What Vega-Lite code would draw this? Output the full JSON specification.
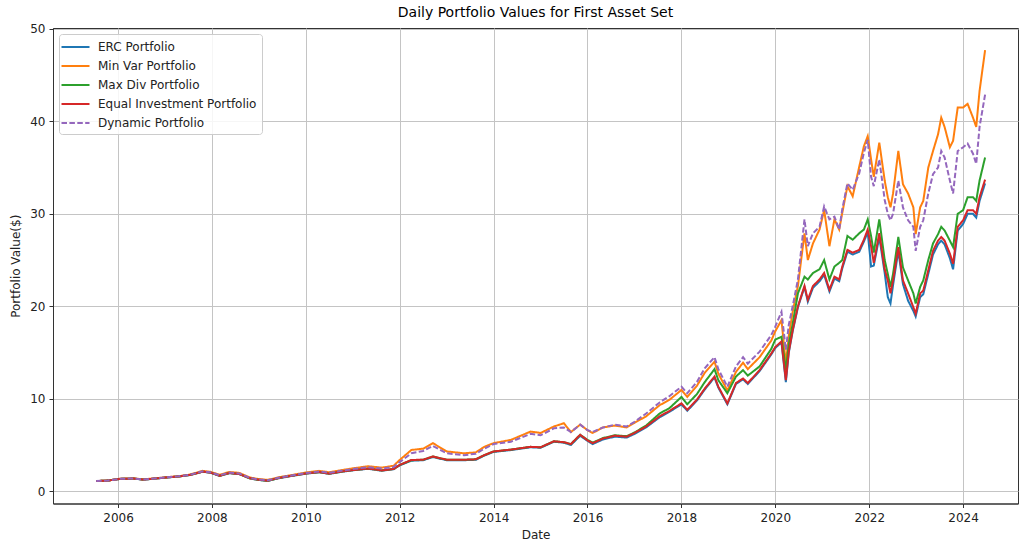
{
  "$schema": "https://vega.github.io/schema/vega-lite/v6.json",
  "width": 965,
  "height": 475.5,
  "autosize": {"type": "none"},
  "padding": {"left": 53, "top": 28, "right": 2, "bottom": 40.5},
  "background": "white",
  "title": {"text": "Daily Portfolio Values for First Asset Set", "fontSize": 14, "font": "DejaVu Sans", "fontWeight": "normal", "color": "#000", "offset": 3, "anchor": "middle"},
  "config": {
    "view": {"stroke": "#333", "strokeWidth": 1},
    "font": "DejaVu Sans",
    "axis": {"labelFont": "DejaVu Sans", "labelFontSize": 12, "labelColor": "#222", "titleFont": "DejaVu Sans", "titleFontSize": 12, "titleFontWeight": "normal", "titleColor": "#222", "tickColor": "#333", "tickSize": 4, "domainColor": "#333", "gridColor": "#c4c4c4", "gridWidth": 1}
  },
  "data": {"values": [
    {"date": "2005-07-15", "ERC": 1.10, "MinVar": 1.10, "MaxDiv": 1.10, "Equal": 1.10, "Dynamic": 1.10},
    {"date": "2005-10-15", "ERC": 1.15, "MinVar": 1.16, "MaxDiv": 1.15, "Equal": 1.15, "Dynamic": 1.16},
    {"date": "2006-01-15", "ERC": 1.33, "MinVar": 1.35, "MaxDiv": 1.33, "Equal": 1.33, "Dynamic": 1.34},
    {"date": "2006-05-01", "ERC": 1.36, "MinVar": 1.39, "MaxDiv": 1.37, "Equal": 1.37, "Dynamic": 1.38},
    {"date": "2006-07-15", "ERC": 1.25, "MinVar": 1.28, "MaxDiv": 1.26, "Equal": 1.26, "Dynamic": 1.27},
    {"date": "2006-10-15", "ERC": 1.36, "MinVar": 1.39, "MaxDiv": 1.37, "Equal": 1.37, "Dynamic": 1.38},
    {"date": "2007-01-15", "ERC": 1.48, "MinVar": 1.52, "MaxDiv": 1.49, "Equal": 1.49, "Dynamic": 1.50},
    {"date": "2007-04-15", "ERC": 1.58, "MinVar": 1.62, "MaxDiv": 1.59, "Equal": 1.59, "Dynamic": 1.61},
    {"date": "2007-07-15", "ERC": 1.75, "MinVar": 1.80, "MaxDiv": 1.76, "Equal": 1.76, "Dynamic": 1.78},
    {"date": "2007-10-20", "ERC": 2.10, "MinVar": 2.20, "MaxDiv": 2.12, "Equal": 2.12, "Dynamic": 2.15},
    {"date": "2007-12-20", "ERC": 2.00, "MinVar": 2.10, "MaxDiv": 2.02, "Equal": 2.02, "Dynamic": 2.06},
    {"date": "2008-03-01", "ERC": 1.65, "MinVar": 1.78, "MaxDiv": 1.67, "Equal": 1.67, "Dynamic": 1.72},
    {"date": "2008-05-15", "ERC": 1.95, "MinVar": 2.08, "MaxDiv": 1.97, "Equal": 1.97, "Dynamic": 2.02},
    {"date": "2008-08-01", "ERC": 1.85, "MinVar": 1.98, "MaxDiv": 1.86, "Equal": 1.86, "Dynamic": 1.92},
    {"date": "2008-10-20", "ERC": 1.40, "MinVar": 1.50, "MaxDiv": 1.40, "Equal": 1.42, "Dynamic": 1.45},
    {"date": "2008-12-15", "ERC": 1.25, "MinVar": 1.35, "MaxDiv": 1.25, "Equal": 1.27, "Dynamic": 1.30},
    {"date": "2009-03-10", "ERC": 1.10, "MinVar": 1.22, "MaxDiv": 1.12, "Equal": 1.13, "Dynamic": 1.18},
    {"date": "2009-06-01", "ERC": 1.40, "MinVar": 1.50, "MaxDiv": 1.42, "Equal": 1.42, "Dynamic": 1.45},
    {"date": "2009-09-01", "ERC": 1.62, "MinVar": 1.72, "MaxDiv": 1.64, "Equal": 1.64, "Dynamic": 1.68},
    {"date": "2010-01-01", "ERC": 1.90, "MinVar": 2.02, "MaxDiv": 1.92, "Equal": 1.92, "Dynamic": 1.97},
    {"date": "2010-04-15", "ERC": 2.05, "MinVar": 2.20, "MaxDiv": 2.06, "Equal": 2.07, "Dynamic": 2.13},
    {"date": "2010-07-01", "ERC": 1.88, "MinVar": 2.05, "MaxDiv": 1.90, "Equal": 1.90, "Dynamic": 1.98},
    {"date": "2010-10-15", "ERC": 2.12, "MinVar": 2.30, "MaxDiv": 2.14, "Equal": 2.15, "Dynamic": 2.24},
    {"date": "2011-01-15", "ERC": 2.28, "MinVar": 2.50, "MaxDiv": 2.30, "Equal": 2.30, "Dynamic": 2.42},
    {"date": "2011-05-01", "ERC": 2.42, "MinVar": 2.70, "MaxDiv": 2.45, "Equal": 2.45, "Dynamic": 2.60},
    {"date": "2011-08-15", "ERC": 2.22, "MinVar": 2.55, "MaxDiv": 2.25, "Equal": 2.25, "Dynamic": 2.45},
    {"date": "2011-11-15", "ERC": 2.38, "MinVar": 2.75, "MaxDiv": 2.40, "Equal": 2.40, "Dynamic": 2.62},
    {"date": "2012-01-01", "ERC": 2.80, "MinVar": 3.38, "MaxDiv": 2.84, "Equal": 2.84, "Dynamic": 3.15},
    {"date": "2012-04-01", "ERC": 3.30, "MinVar": 4.46, "MaxDiv": 3.35, "Equal": 3.38, "Dynamic": 4.10},
    {"date": "2012-07-01", "ERC": 3.35, "MinVar": 4.60, "MaxDiv": 3.40, "Equal": 3.40, "Dynamic": 4.35},
    {"date": "2012-09-15", "ERC": 3.70, "MinVar": 5.20, "MaxDiv": 3.75, "Equal": 3.75, "Dynamic": 4.90},
    {"date": "2013-01-01", "ERC": 3.35, "MinVar": 4.30, "MaxDiv": 3.40, "Equal": 3.40, "Dynamic": 4.10},
    {"date": "2013-05-15", "ERC": 3.35, "MinVar": 4.10, "MaxDiv": 3.40, "Equal": 3.40, "Dynamic": 3.90},
    {"date": "2013-08-15", "ERC": 3.40, "MinVar": 4.20, "MaxDiv": 3.45, "Equal": 3.45, "Dynamic": 4.05},
    {"date": "2013-10-20", "ERC": 3.85, "MinVar": 4.80, "MaxDiv": 3.90, "Equal": 3.90, "Dynamic": 4.60},
    {"date": "2014-01-01", "ERC": 4.25, "MinVar": 5.20, "MaxDiv": 4.30, "Equal": 4.30, "Dynamic": 5.10},
    {"date": "2014-05-15", "ERC": 4.45, "MinVar": 5.55, "MaxDiv": 4.50, "Equal": 4.50, "Dynamic": 5.35},
    {"date": "2014-10-15", "ERC": 4.75, "MinVar": 6.45, "MaxDiv": 4.80, "Equal": 4.80, "Dynamic": 6.20},
    {"date": "2015-01-01", "ERC": 4.70, "MinVar": 6.30, "MaxDiv": 4.75, "Equal": 4.75, "Dynamic": 6.05},
    {"date": "2015-04-15", "ERC": 5.35, "MinVar": 7.00, "MaxDiv": 5.40, "Equal": 5.40, "Dynamic": 6.80},
    {"date": "2015-07-01", "ERC": 5.25, "MinVar": 7.35, "MaxDiv": 5.30, "Equal": 5.30, "Dynamic": 6.90},
    {"date": "2015-08-25", "ERC": 5.00, "MinVar": 6.40, "MaxDiv": 5.10, "Equal": 5.10, "Dynamic": 6.40},
    {"date": "2015-11-05", "ERC": 6.00, "MinVar": 7.20, "MaxDiv": 6.10, "Equal": 6.10, "Dynamic": 7.20},
    {"date": "2016-01-01", "ERC": 5.45, "MinVar": 6.60, "MaxDiv": 5.55, "Equal": 5.50, "Dynamic": 6.60},
    {"date": "2016-02-10", "ERC": 5.10, "MinVar": 6.30, "MaxDiv": 5.25, "Equal": 5.20, "Dynamic": 6.40},
    {"date": "2016-05-01", "ERC": 5.60, "MinVar": 6.90, "MaxDiv": 5.75, "Equal": 5.70, "Dynamic": 6.90},
    {"date": "2016-08-01", "ERC": 5.90, "MinVar": 7.10, "MaxDiv": 6.05, "Equal": 6.00, "Dynamic": 7.20},
    {"date": "2016-11-01", "ERC": 5.80, "MinVar": 6.90, "MaxDiv": 5.95, "Equal": 5.90, "Dynamic": 7.00},
    {"date": "2017-01-01", "ERC": 6.20, "MinVar": 7.40, "MaxDiv": 6.35, "Equal": 6.30, "Dynamic": 7.50},
    {"date": "2017-04-01", "ERC": 6.90, "MinVar": 8.10, "MaxDiv": 7.10, "Equal": 7.00, "Dynamic": 8.40},
    {"date": "2017-07-15", "ERC": 8.00, "MinVar": 9.30, "MaxDiv": 8.40, "Equal": 8.10, "Dynamic": 9.60},
    {"date": "2017-10-01", "ERC": 8.60, "MinVar": 9.90, "MaxDiv": 9.00, "Equal": 8.70, "Dynamic": 10.30},
    {"date": "2018-01-01", "ERC": 9.40, "MinVar": 10.95, "MaxDiv": 10.20, "Equal": 9.50, "Dynamic": 11.30},
    {"date": "2018-02-15", "ERC": 8.70, "MinVar": 10.20, "MaxDiv": 9.40, "Equal": 8.80, "Dynamic": 10.60},
    {"date": "2018-05-01", "ERC": 9.80, "MinVar": 11.40, "MaxDiv": 10.50, "Equal": 9.90, "Dynamic": 11.80},
    {"date": "2018-07-01", "ERC": 11.00, "MinVar": 12.80, "MaxDiv": 11.80, "Equal": 11.10, "Dynamic": 13.30},
    {"date": "2018-09-15", "ERC": 12.30, "MinVar": 14.00, "MaxDiv": 13.20, "Equal": 12.40, "Dynamic": 14.50},
    {"date": "2018-10-15", "ERC": 11.20, "MinVar": 12.70, "MaxDiv": 12.00, "Equal": 11.30, "Dynamic": 13.20},
    {"date": "2018-12-24", "ERC": 9.40, "MinVar": 10.90, "MaxDiv": 10.60, "Equal": 9.50, "Dynamic": 11.30},
    {"date": "2019-03-01", "ERC": 11.60, "MinVar": 12.90, "MaxDiv": 12.40, "Equal": 11.70, "Dynamic": 13.50},
    {"date": "2019-04-25", "ERC": 12.10, "MinVar": 13.90, "MaxDiv": 13.10, "Equal": 12.20, "Dynamic": 14.50},
    {"date": "2019-06-01", "ERC": 11.60, "MinVar": 13.20, "MaxDiv": 12.50, "Equal": 11.70, "Dynamic": 13.80},
    {"date": "2019-09-01", "ERC": 13.00, "MinVar": 14.50, "MaxDiv": 13.50, "Equal": 13.10, "Dynamic": 15.10},
    {"date": "2019-12-01", "ERC": 14.80, "MinVar": 16.30, "MaxDiv": 15.40, "Equal": 14.90, "Dynamic": 16.90},
    {"date": "2020-01-01", "ERC": 15.50, "MinVar": 17.30, "MaxDiv": 16.40, "Equal": 15.60, "Dynamic": 17.80},
    {"date": "2020-02-18", "ERC": 16.10, "MinVar": 18.50, "MaxDiv": 16.70, "Equal": 16.20, "Dynamic": 19.40},
    {"date": "2020-03-23", "ERC": 11.80, "MinVar": 13.80, "MaxDiv": 13.10, "Equal": 12.00, "Dynamic": 15.30},
    {"date": "2020-04-15", "ERC": 15.00, "MinVar": 16.80, "MaxDiv": 15.90, "Equal": 15.10, "Dynamic": 18.00},
    {"date": "2020-05-15", "ERC": 17.30, "MinVar": 19.40, "MaxDiv": 18.10, "Equal": 17.40, "Dynamic": 20.00},
    {"date": "2020-06-25", "ERC": 19.90, "MinVar": 22.20, "MaxDiv": 21.40, "Equal": 20.00, "Dynamic": 22.90},
    {"date": "2020-08-15", "ERC": 22.10, "MinVar": 27.90, "MaxDiv": 23.20, "Equal": 22.20, "Dynamic": 29.40},
    {"date": "2020-09-10", "ERC": 20.50, "MinVar": 25.00, "MaxDiv": 22.90, "Equal": 20.70, "Dynamic": 26.50},
    {"date": "2020-10-20", "ERC": 22.00, "MinVar": 26.80, "MaxDiv": 23.60, "Equal": 22.20, "Dynamic": 27.90},
    {"date": "2020-12-10", "ERC": 22.70, "MinVar": 28.30, "MaxDiv": 24.00, "Equal": 22.90, "Dynamic": 28.60},
    {"date": "2021-01-15", "ERC": 23.40, "MinVar": 30.40, "MaxDiv": 25.00, "Equal": 23.60, "Dynamic": 30.80},
    {"date": "2021-02-25", "ERC": 21.60, "MinVar": 26.50, "MaxDiv": 22.90, "Equal": 21.80, "Dynamic": 29.40},
    {"date": "2021-04-05", "ERC": 23.00, "MinVar": 29.40, "MaxDiv": 24.30, "Equal": 23.20, "Dynamic": 29.70},
    {"date": "2021-05-12", "ERC": 22.70, "MinVar": 28.30, "MaxDiv": 24.70, "Equal": 22.90, "Dynamic": 28.30},
    {"date": "2021-06-05", "ERC": 24.10, "MinVar": 30.10, "MaxDiv": 25.00, "Equal": 24.30, "Dynamic": 30.50},
    {"date": "2021-07-15", "ERC": 25.90, "MinVar": 33.00, "MaxDiv": 27.60, "Equal": 26.10, "Dynamic": 33.30},
    {"date": "2021-08-25", "ERC": 25.60, "MinVar": 31.90, "MaxDiv": 27.20, "Equal": 25.80, "Dynamic": 32.60},
    {"date": "2021-10-15", "ERC": 25.90, "MinVar": 35.10, "MaxDiv": 27.90, "Equal": 26.10, "Dynamic": 34.40},
    {"date": "2021-11-20", "ERC": 27.00, "MinVar": 37.30, "MaxDiv": 28.30, "Equal": 27.20, "Dynamic": 36.60},
    {"date": "2021-12-20", "ERC": 28.00, "MinVar": 38.40, "MaxDiv": 29.40, "Equal": 28.30, "Dynamic": 38.00},
    {"date": "2022-01-15", "ERC": 24.30, "MinVar": 35.90, "MaxDiv": 27.60, "Equal": 26.50, "Dynamic": 34.00},
    {"date": "2022-02-05", "ERC": 24.40, "MinVar": 34.00, "MaxDiv": 25.80, "Equal": 24.70, "Dynamic": 33.00},
    {"date": "2022-03-20", "ERC": 27.50, "MinVar": 37.70, "MaxDiv": 29.40, "Equal": 27.90, "Dynamic": 35.90},
    {"date": "2022-05-01", "ERC": 23.60, "MinVar": 33.60, "MaxDiv": 25.00, "Equal": 24.00, "Dynamic": 31.50},
    {"date": "2022-05-25", "ERC": 21.00, "MinVar": 31.80, "MaxDiv": 23.50, "Equal": 22.80, "Dynamic": 30.00},
    {"date": "2022-06-15", "ERC": 20.30, "MinVar": 30.70, "MaxDiv": 22.10, "Equal": 21.40, "Dynamic": 29.30},
    {"date": "2022-07-05", "ERC": 22.30, "MinVar": 32.20, "MaxDiv": 23.50, "Equal": 22.80, "Dynamic": 30.00},
    {"date": "2022-08-15", "ERC": 26.00, "MinVar": 36.80, "MaxDiv": 27.50, "Equal": 26.40, "Dynamic": 33.60},
    {"date": "2022-09-20", "ERC": 22.40, "MinVar": 33.20, "MaxDiv": 24.20, "Equal": 22.80, "Dynamic": 30.70},
    {"date": "2022-10-30", "ERC": 20.60, "MinVar": 32.20, "MaxDiv": 22.80, "Equal": 21.40, "Dynamic": 29.30},
    {"date": "2022-12-10", "ERC": 19.50, "MinVar": 30.70, "MaxDiv": 21.40, "Equal": 19.90, "Dynamic": 28.60},
    {"date": "2022-12-28", "ERC": 18.90, "MinVar": 27.80, "MaxDiv": 20.30, "Equal": 19.20, "Dynamic": 26.00},
    {"date": "2023-02-01", "ERC": 21.00, "MinVar": 30.70, "MaxDiv": 22.10, "Equal": 21.40, "Dynamic": 28.60},
    {"date": "2023-02-25", "ERC": 21.30, "MinVar": 31.40, "MaxDiv": 22.80, "Equal": 21.70, "Dynamic": 29.30},
    {"date": "2023-04-05", "ERC": 23.50, "MinVar": 35.00, "MaxDiv": 25.00, "Equal": 23.90, "Dynamic": 32.20},
    {"date": "2023-05-12", "ERC": 25.60, "MinVar": 36.80, "MaxDiv": 26.80, "Equal": 26.00, "Dynamic": 34.30},
    {"date": "2023-06-20", "ERC": 26.70, "MinVar": 38.60, "MaxDiv": 27.80, "Equal": 27.10, "Dynamic": 35.00},
    {"date": "2023-07-15", "ERC": 27.10, "MinVar": 40.40, "MaxDiv": 28.60, "Equal": 27.50, "Dynamic": 36.80},
    {"date": "2023-08-10", "ERC": 26.70, "MinVar": 39.40, "MaxDiv": 28.20, "Equal": 27.10, "Dynamic": 36.10},
    {"date": "2023-09-20", "ERC": 25.20, "MinVar": 37.20, "MaxDiv": 27.10, "Equal": 25.70, "Dynamic": 33.60},
    {"date": "2023-10-15", "ERC": 24.00, "MinVar": 37.90, "MaxDiv": 26.40, "Equal": 24.60, "Dynamic": 32.20},
    {"date": "2023-11-20", "ERC": 28.20, "MinVar": 41.50, "MaxDiv": 30.00, "Equal": 28.60, "Dynamic": 36.80},
    {"date": "2024-01-01", "ERC": 28.90, "MinVar": 41.50, "MaxDiv": 30.40, "Equal": 29.30, "Dynamic": 37.20},
    {"date": "2024-02-05", "ERC": 30.00, "MinVar": 41.90, "MaxDiv": 31.80, "Equal": 30.40, "Dynamic": 37.60},
    {"date": "2024-03-18", "ERC": 30.00, "MinVar": 40.40, "MaxDiv": 31.80, "Equal": 30.40, "Dynamic": 36.50},
    {"date": "2024-04-12", "ERC": 29.60, "MinVar": 39.40, "MaxDiv": 31.40, "Equal": 30.00, "Dynamic": 35.40},
    {"date": "2024-05-08", "ERC": 31.40, "MinVar": 43.30, "MaxDiv": 33.60, "Equal": 31.80, "Dynamic": 39.40},
    {"date": "2024-06-20", "ERC": 33.30, "MinVar": 47.70, "MaxDiv": 36.10, "Equal": 33.70, "Dynamic": 42.90}
  ]},
  "transform": [
    {"fold": ["ERC", "MinVar", "MaxDiv", "Equal", "Dynamic"], "as": ["key", "value"]},
    {"lookup": "key", "from": {"data": {"values": [
      {"key": "ERC", "series": "ERC Portfolio"},
      {"key": "MinVar", "series": "Min Var Portfolio"},
      {"key": "MaxDiv", "series": "Max Div Portfolio"},
      {"key": "Equal", "series": "Equal Investment Portfolio"},
      {"key": "Dynamic", "series": "Dynamic Portfolio"}
    ]}, "key": "key", "fields": ["series"]}}
  ],
  "mark": {"type": "line", "strokeWidth": 2, "clip": true},
  "encoding": {
    "x": {"field": "date", "type": "temporal", "title": "Date",
      "scale": {"domain": [{"year": 2004, "month": 8, "date": 13}, {"year": 2025, "month": 3, "date": 3}], "nice": false},
      "axis": {"format": "%Y", "values": [{"year": 2006, "month": 1, "date": 1}, {"year": 2008, "month": 1, "date": 1}, {"year": 2010, "month": 1, "date": 1}, {"year": 2012, "month": 1, "date": 1}, {"year": 2014, "month": 1, "date": 1}, {"year": 2016, "month": 1, "date": 1}, {"year": 2018, "month": 1, "date": 1}, {"year": 2020, "month": 1, "date": 1}, {"year": 2022, "month": 1, "date": 1}, {"year": 2024, "month": 1, "date": 1}], "labelPadding": 5, "titlePadding": 6, "labelFlush": false}},
    "y": {"field": "value", "type": "quantitative", "title": "Portfolio Value($)",
      "scale": {"domain": [-1.33, 50.1], "nice": false, "zero": false},
      "axis": {"values": [0, 10, 20, 30, 40, 50], "labelPadding": 4, "titlePadding": 7}},
    "color": {"field": "series", "type": "nominal", "title": null,
      "scale": {"domain": ["ERC Portfolio", "Min Var Portfolio", "Max Div Portfolio", "Equal Investment Portfolio", "Dynamic Portfolio"],
        "range": ["#1f77b4", "#ff7f0e", "#2ca02c", "#d62728", "#9467bd"]},
      "legend": {"orient": "top-left", "offset": 6, "padding": 5, "strokeColor": "#cccccc", "fillColor": "rgba(255,255,255,0.85)", "cornerRadius": 3, "labelFontSize": 12, "labelFont": "DejaVu Sans", "labelColor": "#222", "symbolType": "M-1.5,0H2.5", "symbolSize": 196, "symbolStrokeWidth": 2, "symbolFillColor": "transparent", "rowPadding": 5, "labelOffset": 18}},
    "strokeDash": {"field": "series", "type": "nominal", "title": null,
      "scale": {"domain": ["ERC Portfolio", "Min Var Portfolio", "Max Div Portfolio", "Equal Investment Portfolio", "Dynamic Portfolio"],
        "range": [[1, 0], [1, 0], [1, 0], [1, 0], [5.5, 2.4]]}}
  }
}
